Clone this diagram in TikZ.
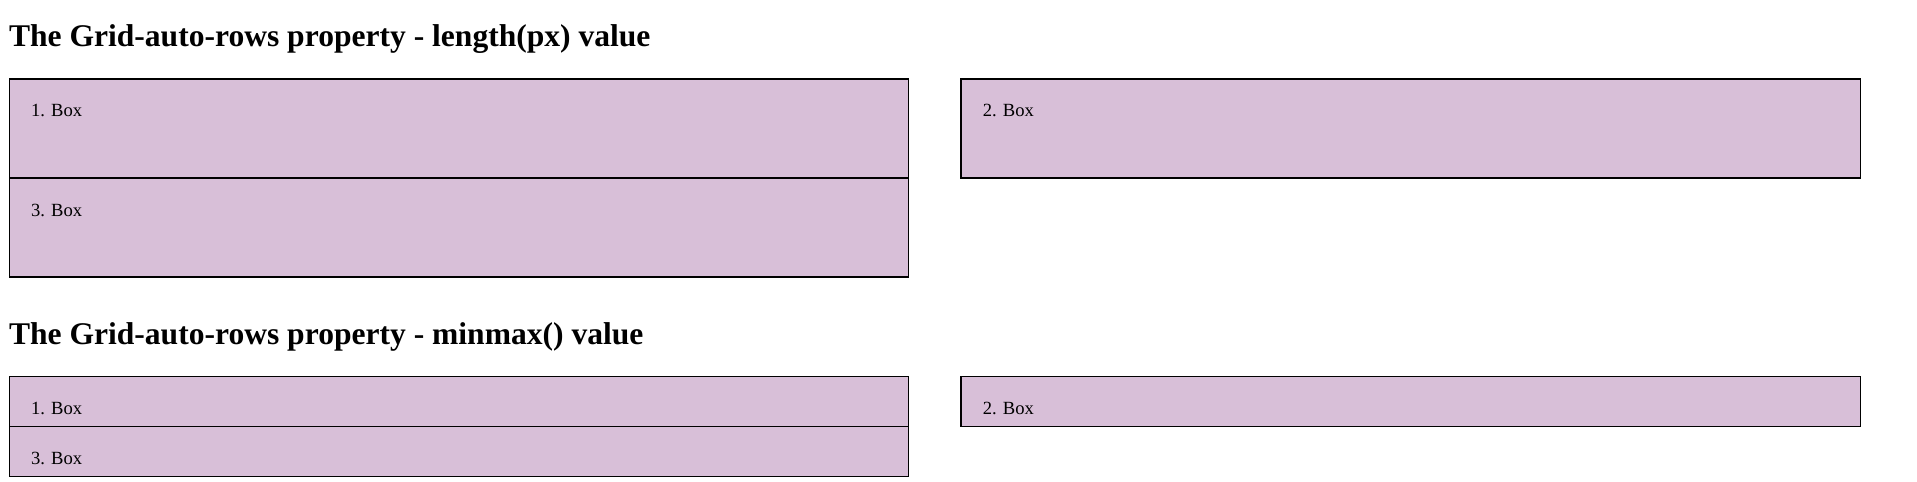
\documentclass[tikz,border=0pt]{standalone}
\usepackage{fontspec}
\setmainfont{Liberation Serif}
\usetikzlibrary{positioning}

\tikzset{
  cell/.style={draw=black, fill=cellpink, line width=0.5pt, anchor=north west,
    inner sep=0pt, minimum width=367.5pt},
  tall/.style={cell, minimum height=40.5pt},
  flat/.style={cell, minimum height=20.5pt},
  heading/.style={anchor=base west, inner sep=0pt, font=\fontsize{12.9}{15}\selectfont\bfseries},
  boxtext/.style={anchor=base west, inner sep=0pt, font=\fontsize{7.6}{9}\selectfont}
}
\definecolor{cellpink}{RGB}{216,191,216}

\begin{document}
\begin{tikzpicture}[x=0.5pt, y=-0.5pt]
\useasboundingbox (0,0) rectangle (1567,394);
% length(px) value
\node [heading] (h1) at (7,38) {The Grid-auto-rows property - length(px) value};
\node [tall] (a1) at (7,64) {};
\node [tall] (a2) at (785,64) {};
\node [tall] (a3) at (7,145) {};
\node [boxtext] (t1) at (25,95) {1. Box};
\node [boxtext] (t2) at (803,95) {2. Box};
\node [boxtext] (t3) at (25,177) {3. Box};
% minmax() value
\node [heading] (h2) at (7,282) {The Grid-auto-rows property - minmax() value};
\node [flat] (b1) at (7,307) {};
\node [flat] (b2) at (785,307) {};
\node [flat] (b3) at (7,348) {};
\node [boxtext] (u1) at (25,339) {1. Box};
\node [boxtext] (u2) at (803,339) {2. Box};
\node [boxtext] (u3) at (25,380) {3. Box};
\end{tikzpicture}
\end{document}
